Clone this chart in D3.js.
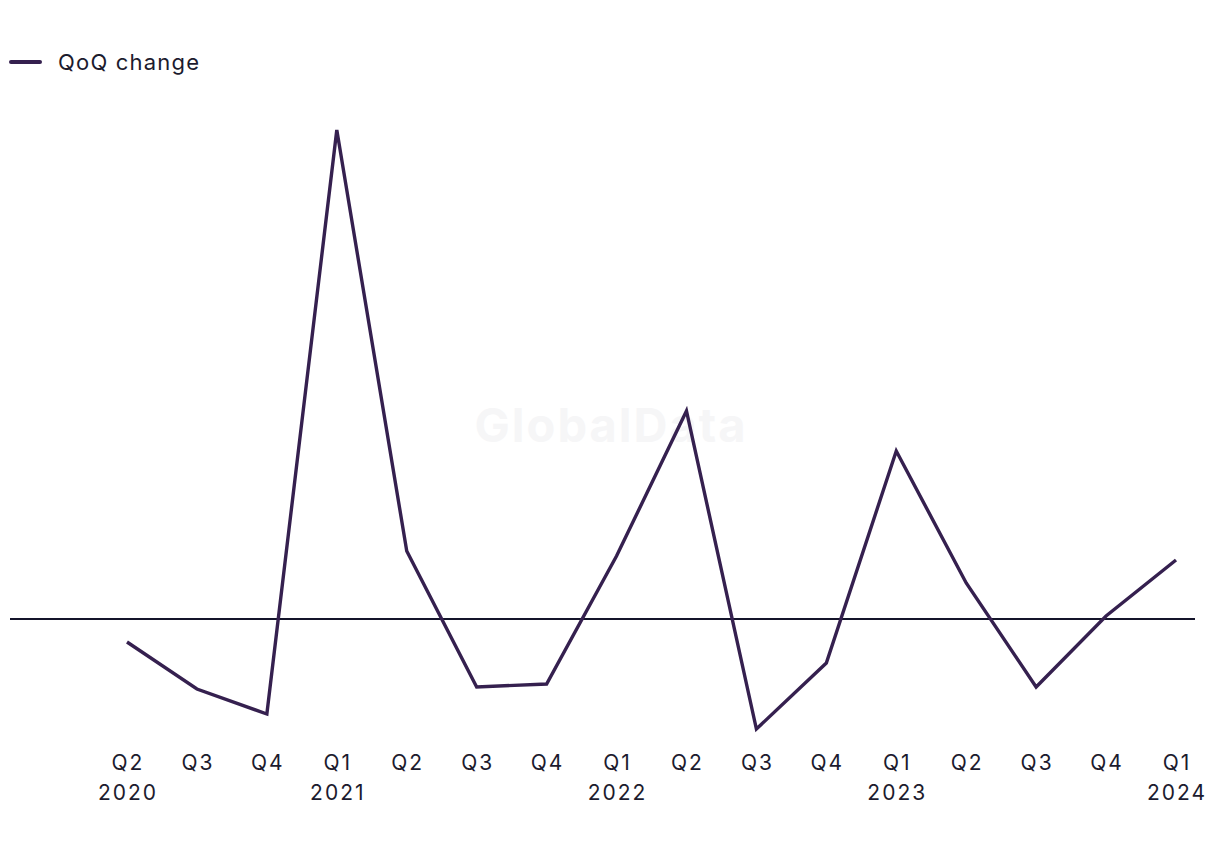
<!DOCTYPE html>
<html><head><meta charset="utf-8">
<script src="https://cdn.jsdelivr.net/npm/d3@7"></script>
<style>body{margin:0;background:#fff;}svg{display:block;}</style>
</head><body>
<svg id="chart" width="1220" height="850"></svg>
<script>
const quarters = ["Q2","Q3","Q4","Q1","Q2","Q3","Q4","Q1","Q2","Q3","Q4","Q1","Q2","Q3","Q4","Q1"];
const years    = ["2020","","","2021","","","","2022","","","","2023","","","","2024"];
const qoqChange = [-2.3,-7.0,-9.5,48.9,6.8,-6.8,-6.5,6.3,20.8,-11.0,-4.4,16.8,3.6,-6.8,0.3,5.9];
const seriesName = "QoQ change";

const svg = d3.select("#chart");
const textColor = "#1c1b2e";
const lineColor = "#35204f";
const font = "Inter, 'Liberation Sans', sans-serif";

const idx = d3.range(quarters.length);
const x = d3.scalePoint().domain(idx).range([127, 1176]);
const y = d3.scaleLinear().domain([0, 48.9]).range([619, 130]);

// watermark
svg.append("text").attr("x", 611).attr("y", 442).attr("text-anchor","middle")
  .attr("font-family", font).attr("font-weight", 700).attr("font-size", 47)
  .attr("letter-spacing", 2).attr("fill", "#f6f6f7").text("GlobalData");

// zero line
svg.append("line").attr("x1", 10).attr("x2", 1195).attr("y1", y(0)).attr("y2", y(0))
  .attr("stroke", "#14142a").attr("stroke-width", 1.8);

// x axis labels
const ls = 2;
const xAxis = svg.append("g");
idx.forEach(i => {
  xAxis.append("text").attr("x", x(i) + ls/2).attr("y", 770).attr("text-anchor","middle")
    .attr("font-family", font).attr("font-size", 21).attr("letter-spacing", ls)
    .attr("fill", textColor).text(quarters[i]);
  if (years[i]) xAxis.append("text").attr("x", x(i) + ls/2).attr("y", 800).attr("text-anchor","middle")
    .attr("font-family", font).attr("font-size", 21).attr("letter-spacing", ls)
    .attr("fill", textColor).text(years[i]);
});

// line
const line = d3.line().x((d,i) => x(i)).y(d => y(d));
svg.append("path").datum(qoqChange).attr("d", line)
  .attr("fill","none").attr("stroke", lineColor).attr("stroke-width", 3.4)
  .attr("stroke-linejoin","miter").attr("stroke-linecap","butt");

// legend
svg.append("line").attr("x1", 11).attr("x2", 40).attr("y1", 62).attr("y2", 62)
  .attr("stroke", lineColor).attr("stroke-width", 4).attr("stroke-linecap","round");
svg.append("text").attr("x", 58).attr("y", 70).attr("font-family", font).attr("font-size", 22)
  .attr("letter-spacing", 1.2).attr("fill", textColor).text(seriesName);
</script>
</body></html>
